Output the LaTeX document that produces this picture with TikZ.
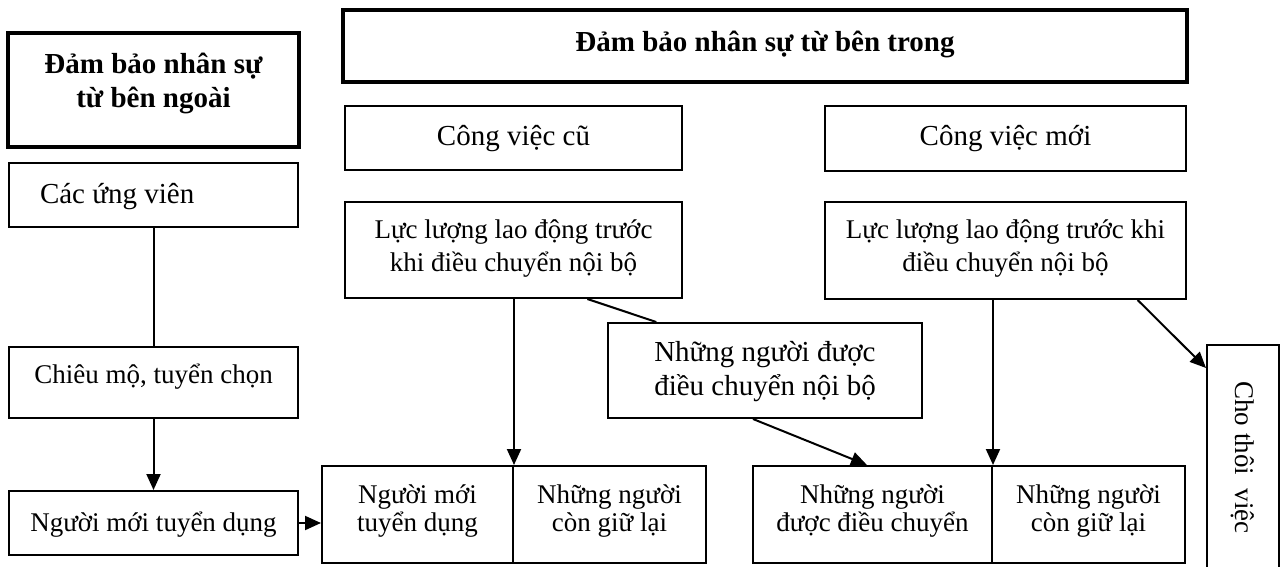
\documentclass[tikz,border=0pt]{standalone}
\usepackage{fontspec}
\usepackage{graphicx}
\setmainfont{Liberation Serif}
\usetikzlibrary{arrows.meta,calc}
\lineskiplimit=-100pt
% two stacked lines, centred or flush left; the baseline is that of the first line
\newcommand{\ctrlines}[2]{\vtop{\halign{\hfil##\hfil\cr#1\cr#2\cr}}}
\newcommand{\leftlines}[2]{\vtop{\halign{##\hfil\cr#1\cr#2\cr}}}
\begin{document}
\begin{tikzpicture}[x=0.5pt,y=-0.5pt,
  box/.style={draw,line width=1pt,inner sep=0pt,font=\fontsize{14.5}{17}\selectfont},
  thickbox/.style={draw,line width=1.8pt,inner sep=0pt,font=\bfseries\fontsize{14.5}{17}\selectfont},
  small/.style={font=\fontsize{13.5}{16.5}\selectfont},
  tight/.style={font=\fontsize{13.5}{13.75}\selectfont},
  up/.style={text height=#1pt,text depth=0pt},
  down/.style={text height=0pt,text depth=#1pt},
  link/.style={line width=1pt},
  arr/.style={line width=1pt,-{Triangle[length=8pt,width=7pt]}}]
\useasboundingbox (0,0) rectangle (1284,567);
\clip (0,0) rectangle (1284,567);

% recruitment from outside
\node[thickbox,minimum width=145.5pt,minimum height=57pt,down=16] (ext) at (153.5,90)
  {\ctrlines{Đảm bảo nhân sự}{từ bên ngoài}};
\node[box,minimum width=144.5pt,minimum height=32pt,inner xsep=15.5pt,up=8] (cand) at (153.5,195)
  {\hbox to 113.5pt{Các ứng viên\hfil}};
\node[box,small,minimum width=144.5pt,minimum height=35.5pt,up=1] (sel) at (153.5,382.5)
  {Chiêu mộ, tuyển chọn};
\node[box,small,minimum width=144.5pt,minimum height=32pt,up=8.5] (hired) at (153.5,523)
  {Người mới tuyển dụng};

% staffing from inside
\node[thickbox,minimum width=422pt,minimum height=36pt,up=6] (int) at (765,46)
  {Đảm bảo nhân sự từ bên trong};
\node[box,minimum width=168.5pt,minimum height=32pt,up=7.5] (oldjob) at (513.5,138) {Công việc cũ};
\node[box,minimum width=180.5pt,minimum height=32.5pt,up=7.5] (newjob) at (1005.5,138.5) {Công việc mới};
\node[box,small,minimum width=168.5pt,minimum height=48pt,down=12] (forceold) at (513.5,250)
  {\ctrlines{Lực lượng lao động trước}{khi điều chuyển nội bộ}};
\node[box,small,minimum width=180.5pt,minimum height=48.5pt,down=12.5] (forcenew) at (1005.5,250.5)
  {\ctrlines{Lực lượng lao động trước khi}{điều chuyển nội bộ}};
\node[box,minimum width=157pt,minimum height=47.5pt,down=9] (moved) at (765,370.5)
  {\leftlines{Những người được}{điều chuyển nội bộ}};

% resulting staff of the old and the new job
\node[box,tight,minimum width=95.5pt,minimum height=48.5pt,down=11] (oldhired) at (417.5,514.5)
  {\ctrlines{Người mới}{tuyển dụng}};
\node[box,tight,minimum width=96.5pt,minimum height=48.5pt,down=11] (oldkept) at (609.5,514.5)
  {\ctrlines{Những người}{còn giữ lại}};
\node[box,tight,minimum width=119.5pt,minimum height=48.5pt,down=11] (newmoved) at (872.5,514.5)
  {\ctrlines{Những người}{được điều chuyển}};
\node[box,tight,minimum width=96.5pt,minimum height=48.5pt,down=11] (newkept) at (1088.5,514.5)
  {\ctrlines{Những người}{còn giữ lại}};

% dismissal
\node[box,small,minimum width=36pt,minimum height=112.5pt] (fire) at (1243,457.5)
  {\rotatebox{-90}{Cho thôi~~việc}};

% connectors
\draw[link] (cand.south) -- (sel.north);
\draw[arr] (sel.south) -- (hired.north);
\draw[arr] (hired.east) -- (hired.east -| oldhired.west);
\draw[arr] (forceold.south -| oldhired.east) -- (oldhired.north east);
\draw[arr] (forcenew.south -| newmoved.east) -- (newmoved.north east);
\draw[link] ($(forceold.south west)!0.718!(forceold.south east)$) -- ($(moved.north west)!0.156!(moved.north east)$);
\draw[arr] ($(moved.south west)!0.462!(moved.south east)$) -- ($(newmoved.north west)!0.477!(newmoved.north east)$);
\draw[arr] ($(forcenew.south west)!0.864!(forcenew.south east)$) -- ($(fire.north west)+(0,24)$);
\end{tikzpicture}
\end{document}
